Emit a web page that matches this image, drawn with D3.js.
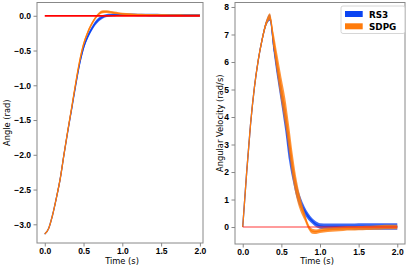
<!DOCTYPE html>
<html>
<head>
<meta charset="utf-8">
<script src="https://cdn.jsdelivr.net/npm/d3@7"></script>
<style>
  body { margin: 0; background: #fff; }
  svg { display: block; font-family: "DejaVu Sans", sans-serif; }
  .tick text { font-weight: bold; font-size: 8.5px; fill: #000; }
  .tick line, .domain { stroke: #888; }
</style>
</head>
<body>
<svg id="fig" width="407" height="268"></svg>
<script>
// sample times (s)
var time = [0, 0.05, 0.1, 0.15, 0.2, 0.25, 0.3, 0.35, 0.4, 0.45, 0.5, 0.55, 0.6, 0.65, 0.7, 0.75,
            0.8, 0.85, 0.9, 0.95, 1.0, 1.1, 1.2, 1.3, 1.4, 1.5, 1.6, 1.7, 1.8, 1.9, 2.0];

// angle (rad), mean and band half width
var angleSDPG = [-3.14, -3.06, -2.87, -2.62, -2.34, -1.98, -1.63, -1.30, -0.96, -0.65, -0.41, -0.25, -0.13, -0.035, 0.03, 0.058,
                 0.06, 0.052, 0.043, 0.035, 0.028, 0.02, 0.015, 0.012, 0.01, 0.008, 0.007, 0.006, 0.005, 0.005, 0.005];
var angleRS3 = [-3.14, -3.06, -2.87, -2.62, -2.34, -1.98, -1.64, -1.32, -0.99, -0.69, -0.46, -0.31, -0.20, -0.11, -0.05, -0.015,
                0.003, 0.01, 0.013, 0.015, 0.015, 0.013, 0.012, 0.01, 0.008, 0.007, 0.006, 0.005, 0.005, 0.005, 0.005];
var angleBandSDPG = [0.005, 0.01, 0.02, 0.03, 0.04, 0.04, 0.04, 0.04, 0.04, 0.035, 0.03, 0.028, 0.025, 0.022, 0.02, 0.02,
                     0.02, 0.018, 0.018, 0.016, 0.015, 0.015, 0.015, 0.015, 0.015, 0.015, 0.015, 0.015, 0.015, 0.015, 0.015];
var angleBandRS3 = [0.005, 0.01, 0.02, 0.03, 0.04, 0.04, 0.04, 0.04, 0.04, 0.035, 0.035, 0.033, 0.03, 0.03, 0.028, 0.025,
                    0.022, 0.02, 0.02, 0.018, 0.018, 0.018, 0.018, 0.018, 0.02, 0.02, 0.02, 0.02, 0.02, 0.02, 0.02];

// angular velocity (rad/s), mean and band half width
var velSDPG = [0, 1.95, 3.7, 5.05, 6.05, 6.8, 7.38, 7.65, 6.75, 5.85, 5.0, 4.2, 3.2, 2.15, 1.35, 0.8,
               0.4, 0.02, -0.15, -0.17, -0.14, -0.1, -0.08, -0.06, -0.05, -0.04, -0.03, -0.02, -0.01, 0, 0];
var velRS3 = [0, 1.95, 3.7, 5.05, 6.05, 6.8, 7.38, 7.62, 6.6, 5.65, 4.8, 3.9, 2.8, 1.95, 1.3, 0.88,
              0.6, 0.38, 0.22, 0.1, 0.04, 0.02, 0.02, 0.02, 0.02, 0.02, 0.02, 0.02, 0.02, 0.02, 0.02];
var velBandSDPG = [0.02, 0.08, 0.1, 0.1, 0.1, 0.1, 0.1, 0.12, 0.3, 0.4, 0.45, 0.5, 0.5, 0.45, 0.35, 0.25,
                   0.15, 0.1, 0.09, 0.08, 0.08, 0.08, 0.08, 0.08, 0.08, 0.08, 0.08, 0.08, 0.08, 0.08, 0.08];
var velBandRS3 = [0.02, 0.08, 0.1, 0.1, 0.1, 0.1, 0.1, 0.12, 0.25, 0.3, 0.35, 0.4, 0.4, 0.3, 0.25, 0.2,
                  0.15, 0.12, 0.1, 0.1, 0.1, 0.11, 0.11, 0.11, 0.11, 0.12, 0.12, 0.12, 0.12, 0.12, 0.12];

// reference target
var targetTime = [0, 2.0];
var targetValue = [0, 0];

var angleTicks = [-3.0, -2.5, -2.0, -1.5, -1.0, -0.5, 0.0];
var velTicks = [0, 1, 2, 3, 4, 5, 6, 7, 8];
var timeTicks = [0.0, 0.5, 1.0, 1.5, 2.0];

var series = ["RS3", "SDPG"];
var colors = {"RS3": "#0b44f2", "SDPG": "#ff7b0a"};

var svg = d3.select("svg#fig");

function drawPanel(opts) {
    let x = d3.scaleLinear().domain(opts.xDomain).range([opts.left, opts.right]);
    let y = d3.scaleLinear().domain(opts.yDomain).range([opts.bottom, opts.top]);
    let g = svg.append("g");

    let area = d3.area()
        .curve(d3.curveMonotoneX)
        .x(function(d) { return x(d.t); })
        .y0(function(d) { return y(d.v - d.w); })
        .y1(function(d) { return y(d.v + d.w); });
    let line = d3.line()
        .curve(d3.curveMonotoneX)
        .x(function(d) { return x(d.t); })
        .y(function(d) { return y(d.v); });

    let target = targetTime.map(function(t, i) { return {t: t, v: targetValue[i]}; });

    series.forEach(function(name) {
        let mean = opts.data[name], band = opts.band[name];
        let pts = time.map(function(t, i) { return {t: t, v: mean[i], w: band[i]}; });
        g.append("path").attr("d", area(pts))
            .attr("fill", colors[name]).attr("fill-opacity", 0.8);
        g.append("path").attr("d", line(pts))
            .attr("stroke", colors[name]).attr("stroke-width", 1.3).attr("fill", "none");
    });

    g.append("path").attr("d", line(target))
        .attr("stroke", opts.targetColor).attr("stroke-width", opts.targetWidth)
        .attr("stroke-opacity", opts.targetOpacity).attr("fill", "none");

    // spines
    g.append("rect")
        .attr("x", opts.left).attr("y", opts.top)
        .attr("width", opts.right - opts.left).attr("height", opts.bottom - opts.top)
        .attr("fill", "none").attr("stroke", "#888").attr("stroke-width", 1);

    let xAxis = d3.axisBottom(x).tickValues(timeTicks).tickFormat(d3.format(".1f"))
        .tickSize(3.5).tickPadding(1.5).tickSizeOuter(0);
    let yAxis = d3.axisLeft(y).tickValues(opts.yTicks).tickFormat(d3.format(opts.yFormat))
        .tickSize(3.5).tickPadding(2.5).tickSizeOuter(0);

    let xg = g.append("g").attr("transform", "translate(0," + opts.bottom + ")").call(xAxis);
    let yg = g.append("g").attr("transform", "translate(" + opts.left + ",0)").call(yAxis);
    xg.select(".domain").remove();
    yg.select(".domain").remove();

    g.append("text")
        .attr("x", opts.xLabelX).attr("y", 264)
        .style("font-size", "8.3px")
        .style("text-anchor", "middle")
        .text("Time (s)");

    g.append("text")
        .attr("transform", "translate(" + opts.yLabelX + "," + ((opts.top + opts.bottom) / 2) + ") rotate(-90)")
        .attr("dy", "0.35em")
        .style("font-size", "8.3px")
        .style("text-anchor", "middle")
        .text(opts.yLabel);
}

drawPanel({
    left: 37, right: 203, top: 2.5, bottom: 243,
    xDomain: [-0.1, 2.04], yDomain: [-3.269, 0.191],
    yTicks: angleTicks, yFormat: ".1f",
    data: {"RS3": angleRS3, "SDPG": angleSDPG},
    band: {"RS3": angleBandRS3, "SDPG": angleBandSDPG},
    targetColor: "#ff0000", targetWidth: 1.8, targetOpacity: 1,
    xLabelX: 122, yLabelX: 7, yLabel: "Angle (rad)"
});

drawPanel({
    left: 235, right: 405, top: 2.5, bottom: 244,
    xDomain: [-0.1, 2.1], yDomain: [-0.617, 8.163],
    yTicks: velTicks, yFormat: "d",
    data: {"RS3": velRS3, "SDPG": velSDPG},
    band: {"RS3": velBandRS3, "SDPG": velBandSDPG},
    targetColor: "#ff2020", targetWidth: 1.5, targetOpacity: 0.6,
    xLabelX: 317, yLabelX: 220, yLabel: "Angular Velocity (rad/s)"
});

// legend
let legend = svg.append("g").attr("transform", "translate(341,6)");
legend.append("rect")
    .attr("width", 64).attr("height", 27.5).attr("rx", 2)
    .attr("fill", "#fff").attr("fill-opacity", 0.8)
    .attr("stroke", "#ccc").attr("stroke-width", 0.8);
series.forEach(function(name, i) {
    legend.append("rect")
        .attr("x", 4).attr("y", 5 + i * 12.3)
        .attr("width", 17.7).attr("height", 6)
        .attr("fill", colors[name]);
    legend.append("text")
        .attr("x", 28).attr("y", 11.6 + i * 12.3)
        .style("font-size", "8.8px")
        .style("font-weight", "bold")
        .text(name);
});
</script>
</body>
</html>
